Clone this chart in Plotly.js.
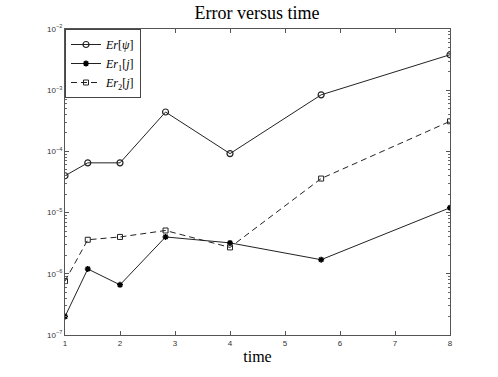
<!DOCTYPE html>
<html>
<head>
<script src="https://cdn.plot.ly/plotly-3.0.1.min.js"></script>
<style>body{margin:0;background:#fff}</style>
</head>
<body>
<div id="chart" style="width:498px;height:377px"></div>
<script>
var time = [1, 1.414, 2, 2.828, 4, 5.657, 8];
var erPsi = [4.0e-5, 6.5e-5, 6.5e-5, 4.4e-4, 9.2e-5, 8.4e-4, 3.8e-3];
var er1 = [2.0e-7, 1.2e-6, 6.6e-7, 4.0e-6, 3.2e-6, 1.7e-6, 1.2e-5];
var er2 = [7.6e-7, 3.6e-6, 4.0e-6, 5.1e-6, 2.7e-6, 3.6e-5, 3.1e-4];

var yExponents = [-7, -6, -5, -4, -3, -2];
var yTickVals = yExponents.map(function (e) { return Math.pow(10, e); });
var yTickText = yExponents.map(function (e) { return '10<sup>\u2212' + (-e) + '</sup>'; });

// minor tick positions for the log axis (2..9 x 10^k)
var minorVals = [];
for (var k = -7; k < -2; k++) {
    for (var m = 2; m < 10; m++) minorVals.push(m * Math.pow(10, k));
}

var trace1 = {
    x: time, y: erPsi,
    mode: 'lines+markers', type: 'scatter',
    name: '<i>Er</i>[<i>ψ</i>]',
    line: {color: '#222', width: 1},
    marker: {symbol: 'circle-open', size: 6, color: '#222', line: {width: 1.2}}
};

var trace2 = {
    x: time, y: er1,
    mode: 'lines+markers', type: 'scatter',
    name: '<i>Er</i><sub>1</sub>[<i>j</i>]',
    line: {color: '#222', width: 1},
    marker: {symbol: 'asterisk-open', size: 5, color: '#000', line: {width: 1.5, color: '#000'}}
};

var trace3 = {
    x: time, y: er2,
    mode: 'lines+markers', type: 'scatter',
    name: '<i>Er</i><sub>2</sub>[<i>j</i>]',
    line: {color: '#222', width: 1, dash: '6px,4px'},
    marker: {symbol: 'square-open', size: 5, color: '#222', line: {width: 1}}
};

var data = [trace1, trace2, trace3];

var layout = {
    width: 498, height: 377,
    margin: {l: 65, r: 48, t: 29, b: 42},
    paper_bgcolor: '#fff', plot_bgcolor: '#fff',
    title: {
        text: 'Error versus time',
        font: {family: 'Liberation Serif', size: 18, color: '#000'},
        x: 0.516, xanchor: 'center', y: 0.965, yanchor: 'middle'
    },
    xaxis: {
        range: [1, 8], dtick: 1, tick0: 1,
        showgrid: false, zeroline: false,
        showline: true, mirror: 'ticks', linecolor: '#555', linewidth: 1,
        ticks: 'inside', ticklen: 4, tickcolor: '#555',
        tickfont: {family: 'Liberation Sans', size: 8, color: '#333'},
        title: {text: 'time', font: {family: 'Liberation Serif', size: 16, color: '#000'}, standoff: 4}
    },
    yaxis: {
        type: 'log', range: [-7, -2],
        tickmode: 'array', tickvals: yTickVals, ticktext: yTickText,
        showgrid: false, zeroline: false,
        showline: true, mirror: 'ticks', linecolor: '#555', linewidth: 1,
        ticks: 'inside', ticklen: 4, tickcolor: '#555',
        tickfont: {family: 'Liberation Sans', size: 8, color: '#333'},
        minor: {tickmode: 'array', tickvals: minorVals, ticks: 'inside', ticklen: 2, tickcolor: '#666', showgrid: false}
    },
    legend: {
        x: 0, y: 1, xanchor: 'left', yanchor: 'top',
        bgcolor: '#fff', bordercolor: '#444', borderwidth: 1,
        font: {family: 'Liberation Serif', size: 12, color: '#000'},
        tracegroupgap: 0, itemwidth: 30
    },
    showlegend: true
};

Plotly.newPlot('chart', data, layout, {displayModeBar: false, staticPlot: true});
</script>
</body>
</html>
